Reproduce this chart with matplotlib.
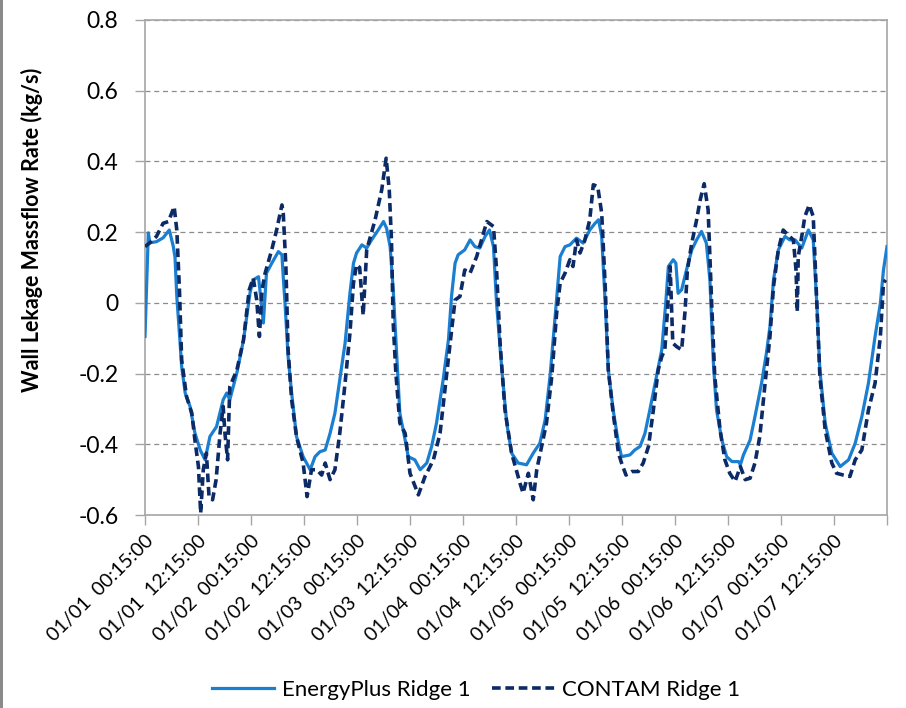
import matplotlib
matplotlib.use("Agg")
import matplotlib.pyplot as plt
from matplotlib.patches import Rectangle

# ---- data (hours since 01/01 00:15, mass flow kg/s) ----
ep_hours = [0.0, 0.75, 1.1, 2.6, 4.1, 5.5, 6.4, 6.8, 7.2, 7.9, 8.3, 9.1, 10.2, 11.3, 12.5, 13.6,
            14.7, 16.2, 17.7, 18.5, 19.2, 20.8, 22.3, 23.8, 24.5, 25.7, 26.8, 27.5, 28.7, 30.2,
            31.0, 31.3, 31.7, 32.4, 33.2, 34.3, 35.8, 37.4, 38.5, 39.6, 40.8, 41.9, 43.0, 44.1,
            45.3, 46.4, 47.2, 47.9, 49.1, 50.2, 51.3, 52.8, 54.0, 54.7, 55.5, 56.2, 57.0, 57.7,
            58.9, 59.6, 61.1, 62.3, 63.8, 64.9, 66.0, 67.5, 68.7, 69.4, 70.2, 70.9, 72.4, 73.6,
            74.7, 75.8, 77.0, 78.0, 78.9, 79.6, 80.8, 81.9, 83.0, 84.5, 86.4, 87.9, 89.4, 90.6,
            91.7, 92.8, 94.0, 95.1, 96.2, 97.7, 99.2, 100.7, 101.9, 102.7, 103.4, 104.2, 104.9,
            106.0, 107.2, 107.9, 109.8, 110.9, 112.1, 113.2, 114.3, 115.8, 117.0, 117.9, 118.5,
            119.6, 120.2, 120.7, 121.5, 122.6, 123.8, 124.9, 126.0, 127.1, 127.9, 128.7, 129.4,
            130.6, 131.7, 132.9, 134.4, 134.8, 135.5, 137.0, 138.1, 139.6, 140.7, 141.5, 142.3,
            143.4, 144.9, 146.0, 147.2, 148.7, 150.2, 151.3, 152.1, 152.8, 154.0, 155.5, 157.4,
            159.3, 160.8, 162.3, 163.8, 165.3, 166.5, 167.2, 168.0]
ep_values = [-0.095, 0.198, 0.170, 0.173, 0.184, 0.206, 0.160, 0.128, 0.018, -0.105, -0.180, -0.255,
             -0.293, -0.368, -0.416, -0.444, -0.378, -0.350, -0.274, -0.255, -0.274, -0.198, -0.105,
             0.030, 0.065, 0.074, -0.057, 0.084, 0.112, 0.145, 0.136, 0.074, -0.001, -0.152, -0.255,
             -0.378, -0.435, -0.472, -0.435, -0.421, -0.416, -0.369, -0.312, -0.218, -0.114, 0.027,
             0.112, 0.141, 0.164, 0.155, 0.178, 0.206, 0.230, 0.211, 0.159, 0.037, -0.152, -0.312,
             -0.388, -0.435, -0.444, -0.472, -0.453, -0.406, -0.340, -0.218, -0.105, 0.018, 0.112,
             0.136, 0.150, 0.178, 0.159, 0.155, 0.188, 0.206, 0.159, -0.001, -0.190, -0.340, -0.425,
             -0.453, -0.458, -0.425, -0.397, -0.331, -0.208, -0.048, 0.131, 0.159, 0.164, 0.183,
             0.169, 0.206, 0.225, 0.235, 0.188, -0.001, -0.190, -0.303, -0.397, -0.435, -0.430,
             -0.416, -0.406, -0.369, -0.303, -0.208, -0.133, -0.001, 0.103, 0.122, 0.112, 0.027,
             0.037, 0.093, 0.150, 0.178, 0.202, 0.169, 0.065, -0.171, -0.303, -0.388, -0.435,
             -0.449, -0.449, -0.458, -0.430, -0.388, -0.322, -0.227, -0.142, -0.067, 0.065, 0.150,
             0.188, 0.178, 0.178, 0.155, 0.206, 0.178, -0.001, -0.190, -0.340, -0.425, -0.463,
             -0.444, -0.397, -0.322, -0.227, -0.095, -0.001, 0.093, 0.159]

ct_hours = [0.0, 1.1, 2.6, 4.1, 5.3, 6.6, 7.2, 7.8, 8.3, 9.4, 10.6, 11.3, 12.1, 12.6, 13.2, 13.9,
            14.5, 15.3, 16.1, 17.0, 17.7, 18.1, 18.7, 19.2, 20.8, 22.3, 23.6, 24.5, 25.3, 25.9,
            26.5, 27.2, 28.7, 29.8, 31.0, 31.3, 31.9, 32.4, 33.2, 34.3, 35.8, 36.7, 37.7, 38.9,
            40.0, 40.8, 41.9, 43.0, 44.1, 45.3, 46.4, 47.2, 47.9, 48.6, 49.4, 50.2, 52.1, 53.6,
            54.6, 55.3, 55.8, 56.2, 56.8, 57.7, 58.9, 60.0, 61.9, 63.4, 65.3, 66.8, 67.9, 69.0,
            70.2, 71.3, 72.4, 73.6, 75.1, 76.2, 77.4, 78.9, 79.6, 80.4, 81.5, 83.0, 84.9, 85.6,
            86.8, 87.9, 88.7, 89.8, 90.9, 92.1, 93.2, 94.0, 95.1, 96.2, 96.9, 97.7, 98.5, 99.6,
            100.7, 101.5, 102.5, 103.4, 104.2, 104.9, 106.0, 107.2, 107.9, 108.9, 110.2, 111.7,
            112.8, 114.0, 115.1, 116.2, 117.0, 117.7, 118.3, 118.9, 119.5, 120.4, 121.5, 122.3,
            122.8, 123.8, 124.9, 125.7, 126.6, 127.5, 128.3, 129.0, 130.2, 131.3, 132.4, 133.6,
            134.8, 135.9, 137.0, 138.1, 139.2, 140.4, 141.5, 142.3, 143.4, 144.5, 145.6, 146.8,
            147.4, 147.7, 147.9, 148.7, 149.4, 150.4, 151.3, 152.1, 152.8, 154.0, 155.5, 156.6,
            158.1, 159.6, 160.8, 162.3, 163.8, 165.3, 166.5, 167.2, 167.7]
ct_values = [0.159, 0.170, 0.188, 0.225, 0.230, 0.272, 0.206, 0.037, -0.161, -0.265, -0.312, -0.388,
             -0.463, -0.595, -0.472, -0.425, -0.548, -0.557, -0.500, -0.369, -0.293, -0.369, -0.444,
             -0.237, -0.190, -0.105, 0.037, 0.070, 0.008, -0.095, 0.037, 0.084, 0.150, 0.206, 0.277,
             0.254, 0.103, -0.133, -0.274, -0.378, -0.453, -0.548, -0.472, -0.472, -0.487, -0.453,
             -0.500, -0.472, -0.369, -0.227, -0.086, 0.056, 0.108, 0.100, -0.035, 0.150, 0.235,
             0.320, 0.409, 0.320, 0.178, -0.057, -0.199, -0.340, -0.369, -0.482, -0.543, -0.491,
             -0.444, -0.369, -0.246, -0.124, 0.008, 0.018, 0.093, 0.084, 0.131, 0.178, 0.230, 0.216,
             0.093, -0.114, -0.303, -0.425, -0.510, -0.538, -0.482, -0.557, -0.472, -0.406, -0.340,
             -0.208, -0.029, 0.056, 0.084, 0.122, 0.103, 0.178, 0.141, 0.178, 0.235, 0.334, 0.329,
             0.254, 0.046, -0.190, -0.312, -0.425, -0.453, -0.487, -0.477, -0.477, -0.453, -0.406,
             -0.303, -0.190, -0.152, -0.133, -0.020, 0.103, -0.114, -0.124, -0.133, -0.020, 0.093,
             0.169, 0.235, 0.291, 0.337, 0.263, -0.001, -0.208, -0.359, -0.444, -0.482, -0.505,
             -0.463, -0.500, -0.496, -0.453, -0.378, -0.227, -0.095, 0.046, 0.150, 0.206, 0.192,
             0.178, 0.093, -0.025, 0.131, 0.188, 0.244, 0.277, 0.244, -0.001, -0.208, -0.359,
             -0.453, -0.482, -0.487, -0.491, -0.444, -0.416, -0.303, -0.227, -0.095, 0.056, 0.065]

tick_hours = [0, 12, 24, 36, 48, 60, 72, 84, 96, 108, 120, 132, 144, 156, 168]
tick_labels = ["01/01  00:15:00", "01/01  12:15:00", "01/02  00:15:00", "01/02  12:15:00",
               "01/03  00:15:00", "01/03  12:15:00", "01/04  00:15:00", "01/04  12:15:00",
               "01/05  00:15:00", "01/05  12:15:00", "01/06  00:15:00", "01/06  12:15:00",
               "01/07  00:15:00", "01/07  12:15:00", ""]
y_ticks = [-0.6, -0.4, -0.2, 0, 0.2, 0.4, 0.6, 0.8]
y_labels = ["-0.6", "-0.4", "-0.2", "0", "0.2", "0.4", "0.6", "0.8"]

plt.rcParams['font.family'] = ['Lato', 'DejaVu Sans']

fig = plt.figure(figsize=(9.06, 7.08), dpi=100)
ax = fig.add_axes([145 / 906, 1 - 515 / 708, (887 - 145) / 906, (515 - 20) / 708])

ax.plot(ep_hours, ep_values, color="#1a7fd0", lw=2.3, label="EnergyPlus Ridge 1", zorder=3)
ax.plot(ct_hours, ct_values, color="#0b2a66", lw=2.6, ls=(0, (2.4, 1.3)),
        label="CONTAM Ridge 1", zorder=4)

ax.set_xlim(0, 168)
ax.set_ylim(-0.6, 0.8)
ax.set_yticks(y_ticks)
ax.set_yticklabels(y_labels, fontsize=16.5)
ax.set_xticks(tick_hours)
ax.set_xticklabels(tick_labels, fontsize=14, rotation=45, ha="right", rotation_mode="anchor")
ax.tick_params(axis="both", color="#a6a6a6", length=7, width=1, pad=5, direction="out")
ax.tick_params(axis="y", pad=12)

for s in ax.spines.values():
    s.set_color("#a6a6a6")
    s.set_linewidth(1.2)

ax.yaxis.grid(True, color="#8c8c8c", ls=(0, (4, 3)), lw=0.9)
ax.set_axisbelow(True)

ax.set_ylabel("Wall Lekage Massflow Rate (kg/s)", fontsize=15.5, fontweight="bold")
ax.yaxis.set_label_coords(-0.137, 0.575)

leg = fig.legend(loc="center", bbox_to_anchor=(476 / 906, 1 - 690 / 708), ncol=2, frameon=False,
                 fontsize=16, handlelength=2.8, columnspacing=1.0, handletextpad=0.35)

fig.add_artist(Rectangle((0, 0), 3 / 906, 1, transform=fig.transFigure, color="#8a8a8a", lw=0))

fig.savefig("out.png", dpi=100)
